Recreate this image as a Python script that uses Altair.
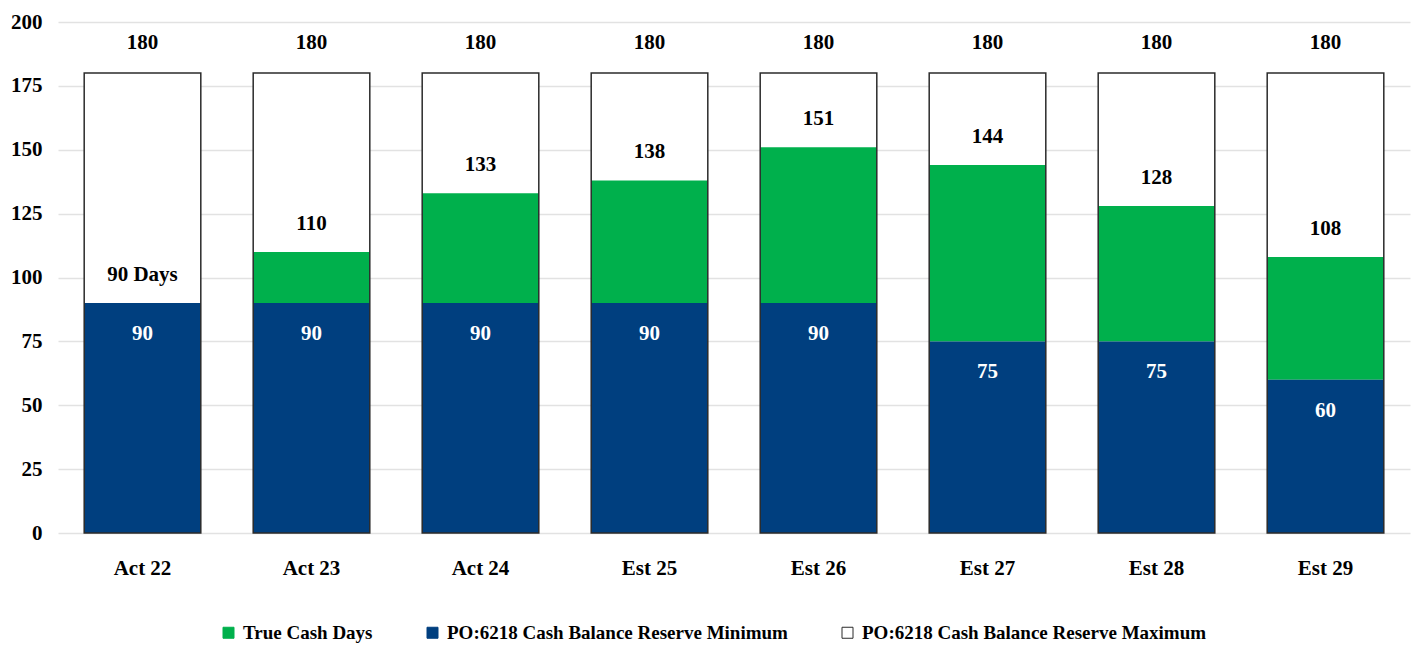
import altair as alt
import pandas as pd

categories = ["Act 22", "Act 23", "Act 24", "Est 25", "Est 26", "Est 27", "Est 28", "Est 29"]
reserve_min = [90, 90, 90, 90, 90, 75, 75, 60]
true_cash_total = [90, 110, 133, 138, 151, 144, 128, 108]
reserve_max = [180, 180, 180, 180, 180, 180, 180, 180]
total_labels = ["90 Days", "110", "133", "138", "151", "144", "128", "108"]

series_names = [
    "True Cash Days",
    "PO:6218 Cash Balance Reserve Minimum",
    "PO:6218 Cash Balance Reserve Maximum",
]
fill_colors = ["#00b04c", "#003f7f", "#ffffff"]
stroke_colors = ["#00b04c", "#003f7f", "#2b2b2b"]

rows = []
for c, mn, tot, mx in zip(categories, reserve_min, true_cash_total, reserve_max):
    rows.append({"category": c, "series": series_names[2], "start": tot, "end": mx})
    rows.append({"category": c, "series": series_names[0], "start": mn, "end": tot})
    rows.append({"category": c, "series": series_names[1], "start": 0, "end": mn})
df_long = pd.DataFrame(rows)

df_wide = pd.DataFrame({
    "category": categories,
    "min": reserve_min,
    "total": true_cash_total,
    "max": reserve_max,
    "label": total_labels,
})

FONT = "Liberation Serif"

x_enc = alt.X(
    "category:N",
    sort=categories,
    scale=alt.Scale(paddingInner=0.31, paddingOuter=0.155),
    axis=alt.Axis(title=None, labelAngle=0, domain=False, ticks=False, labelPadding=24,
                  labelFontSize=21, labelFontWeight="bold", labelFont=FONT, labelColor="#000000"),
)
y_scale = alt.Scale(domain=[0, 200])

legend_def = alt.Legend(
    title=None, orient="none", direction="horizontal", legendX=161, legendY=601,
    labelFont=FONT, labelFontSize=19, labelFontWeight="bold", labelColor="#000000",
    symbolType="square", symbolSize=121, symbolStrokeWidth=1, labelOffset=5,
    columnPadding=50, padding=0, labelLimit=600,
)

bars = alt.Chart(df_long).mark_bar(strokeWidth=0).encode(
    x=x_enc,
    y=alt.Y("start:Q", scale=y_scale,
            axis=alt.Axis(title=None, values=list(range(0, 201, 25)), domain=False, ticks=False,
                          labelPadding=16, labelFontSize=21, labelFontWeight="bold", labelFont=FONT,
                          labelColor="#000000", gridColor="#e2e2e2", gridWidth=1.5)),
    y2="end:Q",
    fill=alt.Fill("series:N", scale=alt.Scale(domain=series_names, range=fill_colors), legend=legend_def),
    stroke=alt.Stroke("series:N", scale=alt.Scale(domain=series_names, range=stroke_colors), legend=legend_def),
)

outline = alt.Chart(df_wide).mark_bar(fillOpacity=0, stroke="#2b2b2b", strokeWidth=1.5).encode(
    x=alt.X("category:N", sort=categories),
    y=alt.Y("max:Q", scale=y_scale),
    y2=alt.value(511),
)

top_text = alt.Chart(df_wide).mark_text(
    dy=-30, fontSize=21, fontWeight="bold", font=FONT, color="#000000", baseline="middle"
).encode(x=alt.X("category:N", sort=categories), y=alt.Y("max:Q", scale=y_scale), text="max:Q")

total_text = alt.Chart(df_wide).mark_text(
    dy=-28, fontSize=21, fontWeight="bold", font=FONT, color="#000000", baseline="middle"
).encode(x=alt.X("category:N", sort=categories), y=alt.Y("total:Q", scale=y_scale), text="label:N")

min_text = alt.Chart(df_wide).mark_text(
    dy=31, fontSize=21, fontWeight="bold", font=FONT, color="#ffffff", baseline="middle"
).encode(x=alt.X("category:N", sort=categories), y=alt.Y("min:Q", scale=y_scale), text="min:Q")

chart = alt.layer(bars, outline, top_text, total_text, min_text).properties(
    width=1352, height=511,
    autosize=alt.AutoSizeParams(type="none"),
    padding={"left": 58, "top": 22, "right": 9, "bottom": 113},
    background="#ffffff",
).configure_view(stroke=None)

chart.save("out.html", embed_options={"renderer": "svg", "actions": False})
